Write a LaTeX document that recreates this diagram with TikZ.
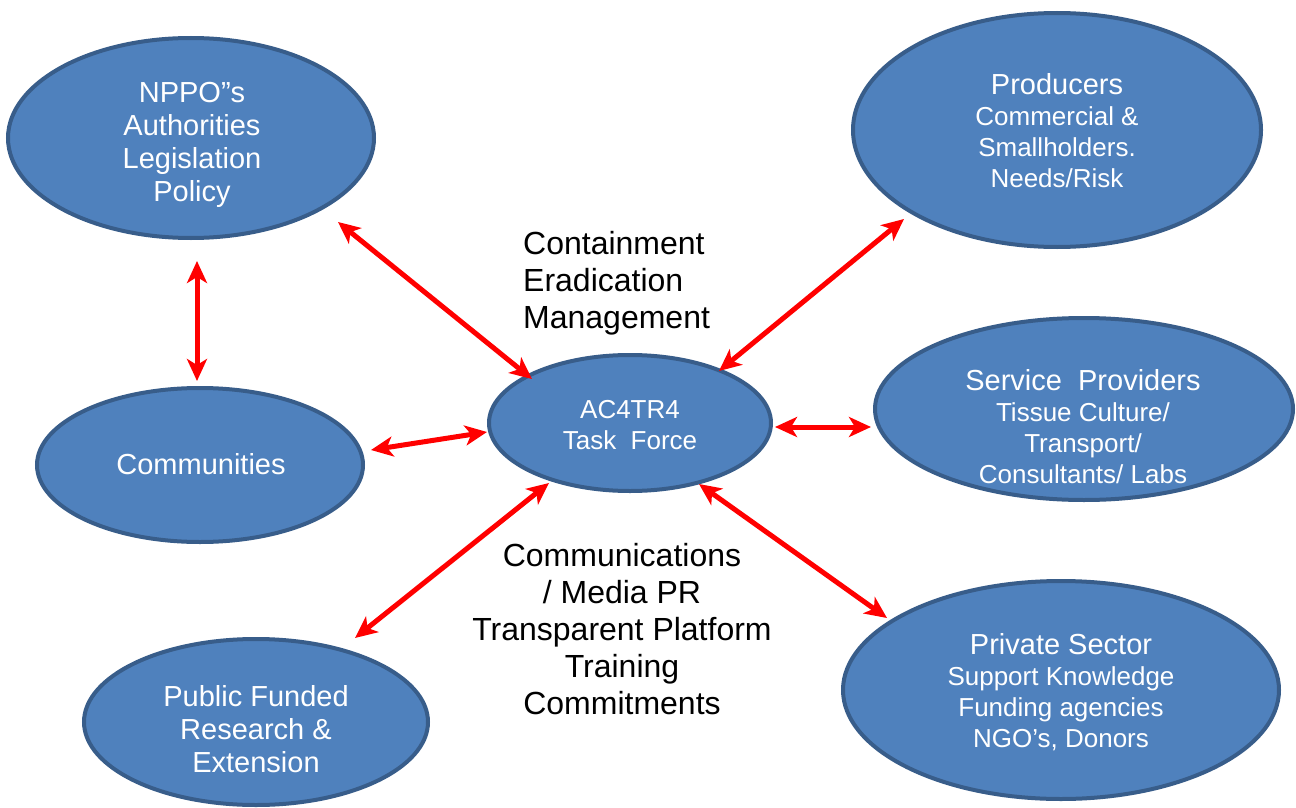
\documentclass[tikz,border=0pt]{standalone}
\usepackage{fontspec}
\setmainfont{Liberation Sans}
\usetikzlibrary{shapes.geometric,arrows.meta}
\definecolor{blobfill}{HTML}{4F81BD}
\definecolor{blobline}{HTML}{385D8A}
\definecolor{arrowred}{HTML}{FF0000}
\newcommand{\bigtxt}{\fontsize{29}{33}\selectfont}
\newcommand{\smalltxt}{\fontsize{26}{31}\selectfont}
\newcommand{\labeltxt}{\fontsize{32}{37}\selectfont}
\tikzset{
  blob/.style={ellipse, draw=blobline, fill=blobfill, line width=4pt, inner sep=0pt},
  blobtext/.style={text=white, align=center, inner sep=0pt},
  link/.style={draw=arrowred, line width=5pt, {Stealth[length=22pt,width=20pt,inset=6pt]}-{Stealth[length=22pt,width=20pt,inset=6pt]}},
  caption/.style={text=black, inner sep=0pt}
}
\begin{document}
\begin{tikzpicture}[x=1pt,y=-1pt]
\useasboundingbox[fill=white] (0,0) rectangle (1296,808);

% ellipses
\node[blob, minimum width=366pt, minimum height=200pt] (nppo) at (191,138) {};
\node[blob, minimum width=408pt, minimum height=234pt] (prod) at (1057,130) {};
\node[blob, minimum width=326pt, minimum height=154pt] (comm) at (200,465) {};
\node[blob, minimum width=282pt, minimum height=136pt] (task) at (630,423) {};
\node[blob, minimum width=418pt, minimum height=182pt] (serv) at (1084,409) {};
\node[blob, minimum width=344pt, minimum height=166pt] (pub) at (256,722) {};
\node[blob, minimum width=436pt, minimum height=218pt] (priv) at (1061,690) {};

% texts inside ellipses
\node[blobtext, font=\bigtxt] (nppot) at (192,145) {NPPO”s\\Authorities\\Legislation\\Policy};
\node[blobtext, font=\smalltxt] (prodt) at (1057,131) {{\bigtxt Producers}\\Commercial \&\\Smallholders.\\Needs/Risk};
\node[blobtext, font=\bigtxt] (commt) at (201,464) {Communities};
\node[blobtext, font=\smalltxt] (taskt) at (630,425) {AC4TR4\\Task\ \ Force};
\node[blobtext, font=\smalltxt] (servt) at (1083,427) {{\bigtxt Service\ \ Providers}\\Tissue Culture/\\Transport/\\Consultants/ Labs};
\node[blobtext, font=\bigtxt] (pubt) at (256,729) {Public Funded\\Research \&\\Extension};
\node[blobtext, font=\smalltxt] (privt) at (1061,692) {{\bigtxt Private Sector}\\Support Knowledge\\Funding agencies\\NGO’s, Donors};

% captions
\node[caption, font=\labeltxt, align=left, anchor=west] (cem) at (523,283) {Containment\\Eradication\\Management};
\node[caption, font=\labeltxt, align=center] (cmt) at (622,629) {Communications\\/ Media PR\\Transparent Platform\\Training\\Commitments};

% arrow end points
\coordinate (a1) at (338,222); \coordinate (a2) at (532,379);
\coordinate (b1) at (904,219); \coordinate (b2) at (719,371);
\coordinate (c1) at (197,261); \coordinate (c2) at (197,381);
\coordinate (d1) at (371,450); \coordinate (d2) at (487,432);
\coordinate (e1) at (775,427); \coordinate (e2) at (871,427);
\coordinate (f1) at (549,483); \coordinate (f2) at (355,638);
\coordinate (g1) at (699,484); \coordinate (g2) at (887,618);

\draw[link] (a1) -- (a2);
\draw[link] (b1) -- (b2);
\draw[link] (c1) -- (c2);
\draw[link] (d1) -- (d2);
\draw[link] (e1) -- (e2);
\draw[link] (f1) -- (f2);
\draw[link] (g1) -- (g2);
\end{tikzpicture}
\end{document}
